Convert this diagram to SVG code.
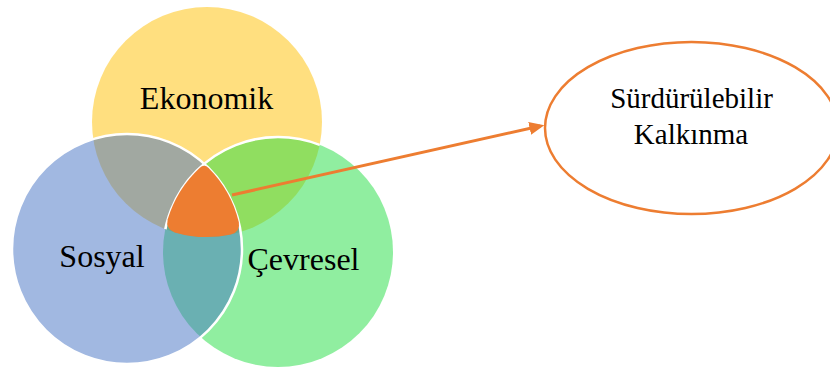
<svg xmlns="http://www.w3.org/2000/svg" width="830" height="371" viewBox="0 0 830 371">
<defs>
<style>
.lbl{font-family:"Liberation Serif","Times New Roman",serif;font-size:32px;fill:#000;text-anchor:middle}
.lbl2{font-family:"Liberation Serif","Times New Roman",serif;font-size:29px;fill:#000;text-anchor:middle}
.ws{fill:none;stroke:#fff;stroke-width:2.5}
</style>
<clipPath id="clipEko"><circle cx="207" cy="122" r="115"/></clipPath>
<marker id="arrow" markerUnits="userSpaceOnUse" markerWidth="15" markerHeight="13" refX="11" refY="6.5" orient="auto" viewBox="0 0 15 13">
<path d="M0,0 L15,6.5 L0,13 z" fill="#ED7D31"/>
</marker>
</defs>
<rect width="830" height="371" fill="#fff"/>
<g id="node-ekonomik">
<circle cx="207" cy="122" r="115" fill="#FFC000" fill-opacity="0.5"/>
</g>
<g id="node-cevresel">
<circle cx="278" cy="252" r="115" fill="#21DD41" fill-opacity="0.5"/>
</g>
<g id="node-sosyal">
<circle cx="127" cy="249" r="115" fill="#4472C4" fill-opacity="0.5"/>
</g>
<g id="outlines">
<circle class="ws" cx="127" cy="249" r="115"/>
<circle class="ws" cx="278" cy="252" r="115" clip-path="url(#clipEko)"/>
</g>
<g id="node-center">
<path d="M199.6,167.9 A115,115 0 0 0 167.7,219.3 Q165.3,229.1 174.7,232.4 A115,115 0 0 0 230.9,234.5 Q240.7,231.9 238.8,222.05 A115,115 0 0 0 208.6,168.0 Q204.2,163.8 199.6,167.9 Z" fill="#ED7D31"/>
</g>
<g id="labels">
<text class="lbl" x="206.5" y="109">Ekonomik</text>
<text class="lbl" x="102" y="266.5">Sosyal</text>
<text class="lbl" x="303.5" y="270">Çevresel</text>
</g>
<g id="connectors">
<line x1="232" y1="195" x2="540.4" y2="126" stroke="#ED7D31" stroke-width="3" marker-end="url(#arrow)"/>
</g>
<g id="node-surdurulebilir">
<ellipse cx="691.5" cy="128" rx="146.5" ry="86" fill="#fff" stroke="#ED7D31" stroke-width="2.5"/>
<text class="lbl2" x="691.5" y="108">Sürdürülebilir</text>
<text class="lbl2" x="691" y="144">Kalkınma</text>
</g>
</svg>
